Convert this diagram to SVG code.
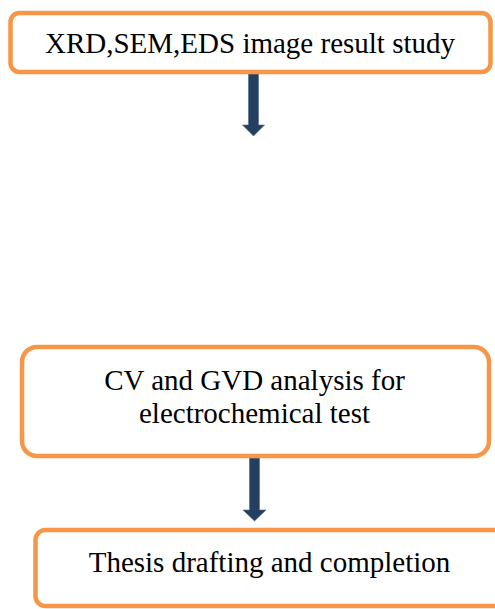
<svg xmlns="http://www.w3.org/2000/svg" width="495" height="609" viewBox="0 0 495 609">
  <style>
    .box { fill: #ffffff; stroke: #F79646; stroke-width: 4.5; }
    .label { font-family: "Liberation Serif", "Times New Roman", serif; font-size: 29px; fill: #000000; text-anchor: middle; }
    .arrow { fill: #243F60; stroke: #4F6A8C; stroke-width: 0.6; }
  </style>
  <rect width="495" height="609" fill="#ffffff"/>

  <g id="connectors">
    <path class="arrow" d="M248.5,74 H258.5 V125 H264.5 L253.5,136 L242.5,125 H248.5 Z"/>
    <path class="arrow" d="M249.5,458 H259.5 V510 H266 L254.5,521 L243,510 H249.5 Z"/>
  </g>

  <g id="node-imaging">
    <rect class="box" x="10.5" y="13" width="480" height="59" rx="9"/>
    <text class="label" x="250" y="53">XRD,SEM,EDS image result study</text>
  </g>

  <g id="node-electrochem">
    <rect class="box" x="22" y="347" width="467" height="109" rx="15"/>
    <text class="label" x="254.5" y="390">CV and GVD analysis for</text>
    <text class="label" x="254.5" y="423">electrochemical test</text>
  </g>

  <g id="node-thesis">
    <rect class="box" x="35.5" y="530" width="470" height="76" rx="10"/>
    <text class="label" x="269.5" y="572">Thesis drafting and completion</text>
  </g>
</svg>
